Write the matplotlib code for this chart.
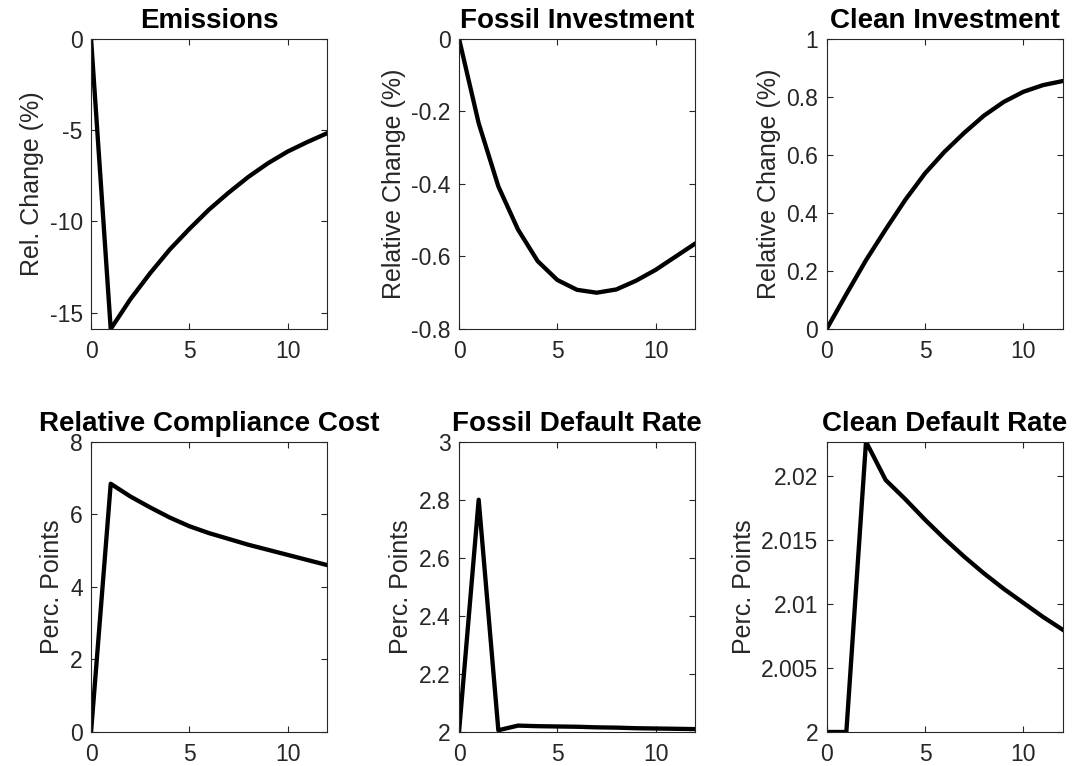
import numpy as np
from matplotlib import pyplot as plt
from matplotlib.ticker import FuncFormatter

plt.rcParams['font.family'] = ['Liberation Sans', 'DejaVu Sans']

t = list(range(13))

emissions = [0, -15.9, -14.27, -12.85, -11.55, -10.42, -9.36, -8.43, -7.57, -6.82, -6.18, -5.66, -5.18]
fossil_inv = [0, -0.233, -0.407, -0.526, -0.613, -0.665, -0.692, -0.700, -0.691, -0.667, -0.637, -0.601, -0.565]
clean_inv = [0, 0.12, 0.237, 0.343, 0.445, 0.536, 0.611, 0.676, 0.735, 0.782, 0.817, 0.84, 0.854]
compliance = [0, 6.84, 6.49, 6.19, 5.91, 5.67, 5.48, 5.32, 5.16, 5.02, 4.88, 4.74, 4.6]
fossil_default = [2.0, 2.8, 2.006, 2.022, 2.020, 2.019, 2.018, 2.016, 2.015, 2.013, 2.012, 2.011, 2.010]
clean_default = [2.0, 2.0, 2.0227, 2.0197, 2.0182, 2.0166, 2.0151, 2.0137, 2.0124, 2.0112, 2.0101, 2.0090, 2.0080]

titles = ['Emissions', 'Fossil Investment', 'Clean Investment',
          'Relative Compliance Cost', 'Fossil Default Rate', 'Clean Default Rate']
ylabels = ['Rel. Change (%)', 'Relative Change (%)', 'Relative Change (%)',
           'Perc. Points', 'Perc. Points', 'Perc. Points']
series = [emissions, fossil_inv, clean_inv, compliance, fossil_default, clean_default]
ylims = [(-15.9, 0), (-0.8, 0), (0, 1), (0, 8), (2, 3), (2, 2.0227)]
yticks = [[-15, -10, -5, 0], [-0.8, -0.6, -0.4, -0.2, 0], [0, 0.2, 0.4, 0.6, 0.8, 1],
          [0, 2, 4, 6, 8], [2, 2.2, 2.4, 2.6, 2.8, 3], [2, 2.005, 2.01, 2.015, 2.02]]

fig = plt.figure(figsize=(10.75, 7.66), dpi=100)
lefts = [0.0847, 0.427, 0.769]
bottoms = [0.5705, 0.0444]
grey = '#262626'

for i in range(6):
    r, c = divmod(i, 3)
    ax = fig.add_axes([lefts[c], bottoms[r], 0.2195, 0.379])
    ax.plot(t, series[i], color='black', linewidth=3.1)
    ax.set_xlim(0, 12)
    ax.set_ylim(*ylims[i])
    ax.set_xticks([0, 5, 10])
    ax.set_yticks(yticks[i])
    ax.yaxis.set_major_formatter(FuncFormatter(lambda v, p: '%g' % round(v, 4)))
    ax.tick_params(direction='in', top=True, right=True, length=4, width=0.8,
                   labelsize=16.5, colors=grey)
    ax.tick_params(axis='x', pad=8)
    ax.tick_params(axis='y', pad=6)
    for s in ax.spines.values():
        s.set_color(grey)
        s.set_linewidth(0.8)
    ax.set_title(titles[i], fontsize=20, fontweight='bold', pad=8)
    ax.set_ylabel(ylabels[i], fontsize=18, color=grey, labelpad=4)

plt.savefig('out.png', dpi=100)
